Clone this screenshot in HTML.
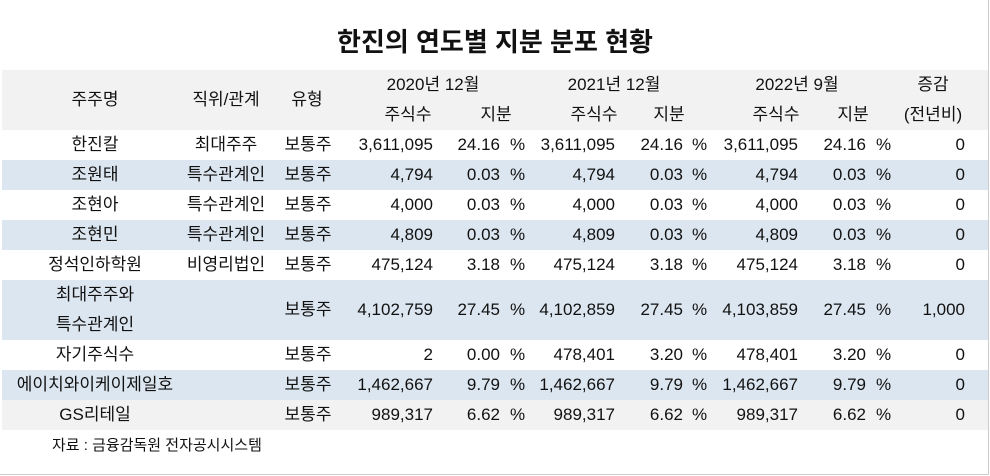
<!DOCTYPE html>
<html><head><meta charset="utf-8">
<style>
body{margin:0;width:990px;height:476px;background:#fff;position:relative;overflow:hidden;font-family:"Liberation Sans","Noto Sans CJK KR",sans-serif;color:#111}
.t{position:absolute;font-size:17px;white-space:nowrap;line-height:20px}
.c{transform:translateX(-50%)}
.r{transform:translateX(-100%)}
.band{position:absolute;left:2px;width:986px}
</style></head>
<body>
<div class="t c" style="left:495px;top:25px;font-size:26px;font-weight:bold;line-height:34px">한진의 연도별 지분 분포 현황</div>
<div class="band" style="top:70px;height:60px;background:#f2f2f2"></div>
<div id="tbl"></div>
<div class="t" style="left:52px;top:436px;font-size:15px">자료 : 금융감독원 전자공시시스템</div>
<div style="position:absolute;left:0;top:0;width:988px;height:474px;border-right:1px solid #ccc;border-bottom:1px solid #ccc"></div>
<script>
const names=["한진칼","조원태","조현아","조현민","정석인하학원","최대주주와\n특수관계인","자기주식수","에이치와이케이제일호","GS리테일"];
const relations=["최대주주","특수관계인","특수관계인","특수관계인","비영리법인","","","",""];
const types=["보통주","보통주","보통주","보통주","보통주","보통주","보통주","보통주","보통주"];
const shares2020=["3,611,095","4,794","4,000","4,809","475,124","4,102,759","2","1,462,667","989,317"];
const pct2020=["24.16","0.03","0.03","0.03","3.18","27.45","0.00","9.79","6.62"];
const shares2021=["3,611,095","4,794","4,000","4,809","475,124","4,102,859","478,401","1,462,667","989,317"];
const pct2021=["24.16","0.03","0.03","0.03","3.18","27.45","3.20","9.79","6.62"];
const shares2022=["3,611,095","4,794","4,000","4,809","475,124","4,103,859","478,401","1,462,667","989,317"];
const pct2022=["24.16","0.03","0.03","0.03","3.18","27.45","3.20","9.79","6.62"];
const changes=["0","0","0","0","0","1,000","0","0","0"];
const rowBg=["#fff","#dce6f0","#fff","#dce6f0","#fff","#dce6f0","#fff","#dce6f0","#f2f2f2"];
const tbl=document.getElementById('tbl');
function txt(s,x,y,cls,name){const d=document.createElement('div');d.className='t '+cls;d.style.left=x+'px';d.style.top=y+'px';d.textContent=s;


tbl.appendChild(d);return d;}
txt("주주명",95,90,'c','header-name');
txt("직위/관계",226,90,'c','header-relation');
txt("유형",307,90,'c','header-type');
[["2020년 12월",433,408,496],["2021년 12월",614,594,669],["2022년 9월",797,776,853]].forEach(h=>{
 txt(h[0],h[1],75,'c','header-period');
 txt("주식수",h[2],105,'c','header-shares');
 txt("지분",h[3],105,'c','header-stake');
});
txt("증감",933,75,'c','header-change');
txt("(전년비)",933,105,'c','header-change-sub');
let y=130;
names.forEach((n,i)=>{
 const h=i===5?60:30;
 const b=document.createElement('div');b.className='band';b.style.top=y+'px';b.style.height=h+'px';b.style.background=rowBg[i];
 
 
 tbl.appendChild(b);
 const ty=y+h/2-10;
 if(n.includes("\n")){const p=n.split("\n");txt(p[0],95,y+5,'c','shareholder-name');txt(p[1],95,y+35,'c','shareholder-name');}
 else txt(n,95,ty,'c','shareholder-name');
 if(relations[i])txt(relations[i],226,ty,'c','relation');
 txt(types[i],308,ty,'c','share-type');
 [[shares2020,pct2020,433,500,510],[shares2021,pct2021,615,683,692],[shares2022,pct2022,798,866,876]].forEach(c=>{
  txt(c[0][i],c[2],ty,'r','share-count');
  txt(c[1][i],c[3],ty,'r','stake-percent');
  txt("%",c[4],ty,'','percent-sign');
 });
 txt(changes[i],965,ty,'r','change-value');
 y+=h;
});
</script>
</body></html>
